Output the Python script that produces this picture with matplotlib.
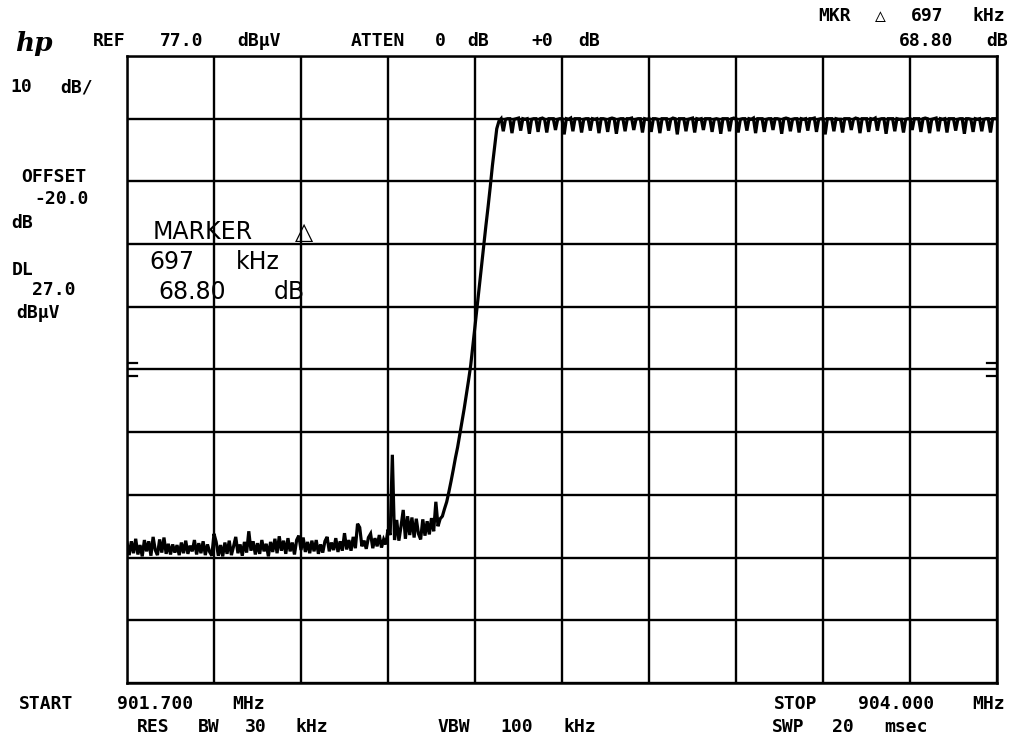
import numpy as np
import matplotlib
matplotlib.use("Agg")
import matplotlib.pyplot as plt

# ---------------- data ----------------
START_MHZ = 901.700
STOP_MHZ = 904.000
REF_LEVEL = 77.0          # dBuV, top graticule line
DB_PER_DIV = 10.0
N_DIV = 10
DL_LEVEL = 27.0           # display line, dBuV

noise_db = [
    -0.6, -2.6, -0.4, -2.3, 0.0, -2.5, -1.0, -2.8, -0.2, -2.0,
    -0.4, -2.7, 0.3, -1.8, -2.6, -0.1, -2.2, 0.2, -2.4, -0.8,
    -2.5, -0.9, -2.2, -1.0, -2.6, -0.6, -2.3, -0.3, -2.4, -1.1,
    -2.0, -0.2, -2.5, -0.7, -2.3, -0.4, -2.6, -0.9, -2.1, -2.7,
    0.8, -0.5, -2.7, -1.0, -2.8, -0.6, -2.4, -0.3, -2.6, -1.2,
    0.3, -2.3, -0.9, -2.7, -0.5, -2.2, 1.2, -1.9, -0.4, -2.5,
    -0.7, -2.4, -0.2, -2.0, -0.8, -2.8, -0.5, -2.1, 0.0, -2.3,
    0.4, -1.9, -0.3, -2.4, 0.1, -2.0, -0.6, -2.5, -0.2, 0.5,
    -1.8, 0.2, -2.1, -0.5, -2.3, -0.3, -2.0, -0.2, -2.4, -0.9,
    -2.2, -0.4, 0.3, -2.0, -0.6, -1.8, 0.1, -2.1, -0.4, -1.9,
    0.9, -1.7, -0.2, -1.9, 0.3, -1.5, 2.4, 1.8, -1.2, -0.3,
    -1.6, 0.2, 0.8, -1.5, 0.1, -1.2, 0.6, -1.4, -0.1, -0.9,
    1.5, 0.6, 13.4, -0.2, 3.0, -0.3, 2.0, 4.6, 0.0, 3.6,
    0.6, 3.4, 0.2, 3.2, 0.8, -0.1, 3.1, 0.5, 2.8, 0.7,
    3.3, 1.2, 5.9, 2.0, 3.2,
]

rise_db = [
    3.6, 4.8, 5.9, 7.5, 9.2, 11.0, 12.9, 14.6, 16.6, 18.6,
    20.7, 22.9, 25.2, 27.6, 30.7, 33.9, 37.1, 40.3, 43.5, 46.7,
    49.9, 52.9, 56.1, 59.5, 62.5, 65.4, 66.6,
]

plateau_db = [
    67.0, 65.0, 66.9, 67.0,  67.0, 64.7, 66.9, 67.0,
    67.1, 65.1, 67.0, 66.9,  67.0, 64.6, 66.9, 67.0,
    67.0, 64.9, 67.0, 67.1,  66.9, 64.8, 67.0, 67.0,
    67.0, 65.2, 66.9, 67.0,  67.0, 64.5, 67.0, 66.9,
    67.1, 65.0, 67.0, 67.0,  67.0, 64.8, 66.9, 67.0,
    67.0, 65.1, 67.0, 66.9,  67.0, 64.7, 67.0, 67.0,
    66.9, 64.9, 67.0, 67.1,  67.0, 64.6, 66.9, 67.0,
    67.0, 65.0, 67.0, 67.0,  67.1, 65.2, 66.9, 67.0,
    67.0, 64.8, 67.0, 66.9,  67.0, 64.9, 67.0, 67.0,
    66.9, 64.7, 67.0, 67.0,  67.0, 65.1, 66.9, 67.1,
    67.0, 64.5, 67.0, 67.0,  67.0, 65.0, 66.9, 67.0,
    67.1, 64.8, 67.0, 66.9,  67.0, 65.2, 67.0, 67.0,
    67.0, 64.9, 66.9, 67.0,  66.9, 64.6, 67.0, 67.0,
    67.0, 65.0, 67.0, 67.1,  67.0, 64.8, 66.9, 67.0,
    67.0, 65.1, 67.0, 66.9,  67.1, 64.7, 67.0, 67.0,
    67.0, 64.9, 66.9, 67.0,  67.0, 65.2, 67.0, 67.0,
    66.9, 64.6, 67.0, 67.1,  67.0, 65.0, 66.9, 67.0,
    67.0, 64.8, 67.0, 66.9,  67.0, 65.1, 67.0, 67.0,
    67.1, 64.9, 66.9, 67.0,  67.0, 64.5, 67.0, 67.0,
    67.0, 65.0, 67.0, 66.9,  66.9, 64.8, 67.0, 67.0,
    67.0, 65.2, 66.9, 67.1,  67.0, 64.7, 67.0, 67.0,
    67.0, 64.9, 67.0, 66.9,  67.1, 65.1, 66.9, 67.0,
    67.0, 64.6, 67.0, 67.0,  67.0, 65.0, 67.0, 66.9,
    66.9, 64.8, 66.9, 67.0,  67.0, 65.2, 67.0, 67.0,
    67.0, 64.9, 67.0, 67.1,  67.0, 64.7, 66.9, 67.0,
    67.1, 65.0, 67.0, 66.9,  67.0, 64.8, 67.0, 67.0,
    67.0, 65.1, 66.9, 67.0,  67.0, 64.6, 67.0, 67.0,
    66.9, 64.9, 67.0, 66.9,  67.0, 65.0, 66.9, 67.0,
    67.0, 64.8, 67.0, 67.0,
    67.0,
]

trace_db = np.array(noise_db + rise_db + plateau_db)
freqs_mhz = np.linspace(START_MHZ, STOP_MHZ, len(trace_db))  # sweep points

# ---------------- figure ----------------
W, H = 1021, 738
fig = plt.figure(figsize=(W / 100, H / 100), dpi=100)
fig.patch.set_facecolor("white")

L, R, T, B = 127, 997, 56, 683
ax = fig.add_axes([L / W, 1 - B / H, (R - L) / W, (B - T) / H])
ax.set_facecolor("white")

bottom_level = REF_LEVEL - N_DIV * DB_PER_DIV
ax.set_xlim(START_MHZ, STOP_MHZ)
ax.set_ylim(bottom_level, REF_LEVEL)
ax.set_xticks(np.linspace(START_MHZ, STOP_MHZ, N_DIV + 1))
ax.set_yticks(np.linspace(bottom_level, REF_LEVEL, N_DIV + 1))
ax.tick_params(length=0, labelbottom=False, labelleft=False)
ax.grid(True, color="black", linewidth=1.7)
for s in ax.spines.values():
    s.set_linewidth(1.8)
    s.set_color("black")

ax.plot(freqs_mhz, trace_db, color="black", linewidth=2.3, solid_joinstyle="miter")

# display-line indicators on both edges
span = STOP_MHZ - START_MHZ
for lvl in (DL_LEVEL + 1.1, DL_LEVEL - 1.1):
    ax.plot([START_MHZ, START_MHZ + span * 0.011], [lvl, lvl], color="black", lw=1.6)
    ax.plot([STOP_MHZ - span * 0.011, STOP_MHZ], [lvl, lvl], color="black", lw=1.6)

# ---------------- annotations ----------------
HPFONT = dict(family=["DejaVu Sans Mono", "DejaVu Sans"], fontweight="bold", fontsize=13)
THIN = dict(family=["DejaVu Sans", "DejaVu Sans Mono"], fontsize=17)


def put(tokens, y, style):
    for txt, xc in tokens:
        fig.text(xc / W, 1 - y / H, txt, ha="center", va="center", **style)


fig.text(34 / W, 1 - 44 / H, "hp", ha="center", va="center", fontsize=19,
         fontstyle="italic", fontweight="bold", family="DejaVu Serif")

put([("REF", 109.5), ("77.0", 182), ("dBµV", 259.5), ("ATTEN", 378),
     ("0", 440), ("dB", 478.5), ("+0", 542.5), ("dB", 589)], 41, HPFONT)
put([("MKR", 834.5), ("△", 880.5), ("697", 927.5), ("kHz", 988.5)], 16, HPFONT)
put([("68.80", 926.5), ("dB", 997)], 41, HPFONT)

put([("10", 21), ("dB/", 76.5)], 87, HPFONT)
put([("OFFSET", 54)], 177, HPFONT)
put([("-20.0", 61.5)], 199, HPFONT)
put([("dB", 22.5)], 223, HPFONT)
put([("DL", 22.5)], 270, HPFONT)
put([("27.0", 54)], 290, HPFONT)
put([("dBµV", 38)], 313, HPFONT)

put([("MARKER", 203), ("△", 303.5)], 232, THIN)
put([("697", 172), ("kHz", 257.5)], 262, THIN)
put([("68.80", 192), ("dB", 289)], 292, THIN)

put([("START", 46.5), ("901.700", 155.5), ("MHz", 248.5),
     ("STOP", 796), ("904.000", 896), ("MHz", 988.5)], 704, HPFONT)
put([("RES", 153.5), ("BW", 209), ("30", 256), ("kHz", 311.5),
     ("VBW", 453.5), ("100", 516.5), ("kHz", 579.5),
     ("SWP", 788.5), ("20", 842.5), ("msec", 905.5)], 727, HPFONT)

fig.savefig("out.png", dpi=100, facecolor="white")
